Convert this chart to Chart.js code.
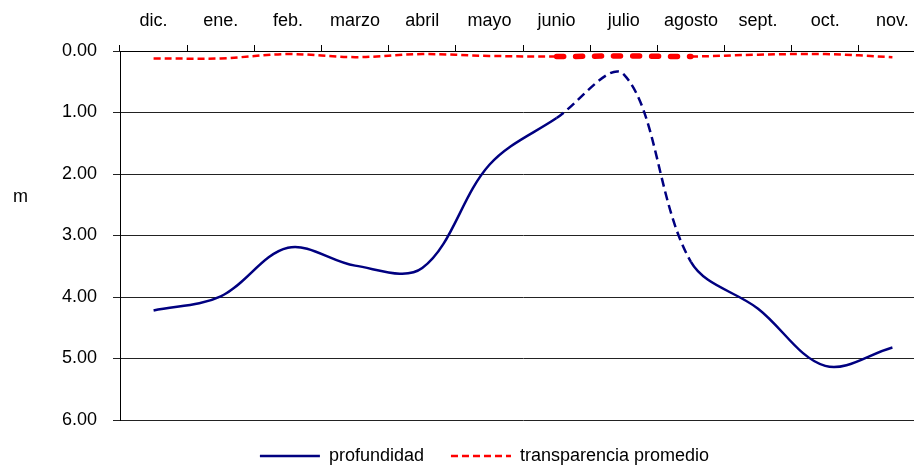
<!DOCTYPE html>
<html>
<head>
  <title>Profundidad y transparencia</title>
  <style>
    html, body { margin: 0; padding: 0; background: #fff; overflow: hidden; }
    .chart-box { position: relative; width: 969px; height: 475px; }
  </style>
  <script src="https://cdn.jsdelivr.net/npm/chart.js"></script>
</head>
<body>
  <div class="chart-box"><canvas id="depthChart"></canvas></div>
  <script>
    const months = ['dic.', 'ene.', 'feb.', 'marzo', 'abril', 'mayo', 'junio', 'julio', 'agosto', 'sept.', 'oct.', 'nov.'];
    const profundidad = [4.22, 3.99, 3.20, 3.49, 3.53, 1.85, 1.09, 0.38, 3.43, 4.19, 5.12, 4.82];
    const transparencia = [0.12, 0.12, 0.05, 0.10, 0.05, 0.08, 0.09, 0.08, 0.09, 0.06, 0.05, 0.10];
    const yMin = 0, yMax = 6, yStep = 1;
    // junio -> agosto is drawn differently (dashed / thick)
    const specialFrom = 6, specialTo = 8;

    const font = { family: '"Liberation Sans", Arial, sans-serif', size: 18 };
    const inSpecial = ctx => ctx.p0DataIndex >= specialFrom && ctx.p1DataIndex <= specialTo;

    const axisTitle = {
      id: 'axisTitle',
      afterDraw(chart) {
        const ctx = chart.ctx;
        ctx.save();
        ctx.font = '18px "Liberation Sans", Arial, sans-serif';
        ctx.fillStyle = '#000';
        ctx.textAlign = 'center';
        ctx.textBaseline = 'alphabetic';
        ctx.fillText('m', 20.5, 202);
        ctx.restore();
      }
    };

    // empty scales used only to reserve room
    const spacer = (position, size) => ({
      type: position === 'bottom' ? 'category' : 'linear',
      position,
      grid: { display: false },
      border: { display: false },
      ticks: { display: false },
      afterFit(s) { if (s.isHorizontal()) s.height = size; else s.width = size; },
    });

    new Chart(document.getElementById('depthChart'), {
      type: 'line',
      data: {
        labels: months,
        datasets: [{
          label: 'profundidad',
          data: profundidad,
          xAxisID: 'x',
          yAxisID: 'y',
          borderColor: '#000080',
          backgroundColor: '#000080',
          borderWidth: 2.5,
          pointRadius: 0,
          pointStyle: 'line',
          tension: 0.35,
          segment: { borderDash: ctx => inSpecial(ctx) ? [9, 5] : undefined },
        }, {
          label: 'transparencia promedio',
          data: transparencia,
          xAxisID: 'x',
          yAxisID: 'y',
          borderColor: '#ff0000',
          backgroundColor: '#ff0000',
          borderWidth: 2.5,
          borderDash: [7, 4],
          pointRadius: 0,
          pointStyle: 'line',
          tension: 0.35,
          segment: {
            borderWidth: ctx => inSpecial(ctx) ? 5.5 : undefined,
            borderDash: ctx => inSpecial(ctx) ? [7, 12] : undefined,
            borderCapStyle: ctx => inSpecial(ctx) ? 'round' : undefined,
          },
        }],
      },
      options: {
        responsive: true,
        maintainAspectRatio: false,
        animation: false,
        layout: { padding: 0 },
        scales: {
          x: {
            position: 'top',
            offset: true,
            grid: { drawOnChartArea: false, tickLength: 6, color: '#000', offset: true },
            border: { color: '#000' },
            ticks: { font, color: '#000', padding: 13, maxRotation: 0, autoSkip: false },
            afterFit(s) { s.height = 51; },
          },
          y: {
            reverse: true,
            min: yMin,
            max: yMax,
            ticks: { stepSize: yStep, font, color: '#000', padding: 16, callback: v => v.toFixed(2) },
            grid: { color: '#222', tickLength: 7 },
            border: { color: '#000' },
            afterFit(s) { s.width = 120; },
          },
          spaceBottom: spacer('bottom', 0),
          spaceRight: spacer('right', 43),
        },
        plugins: {
          legend: {
            position: 'bottom',
            labels: {
              font,
              color: '#000',
              usePointStyle: true,
              pointStyleWidth: 60,
              padding: 27,
              generateLabels(chart) {
                return Chart.defaults.plugins.legend.labels.generateLabels(chart).map((item, i) => {
                  const ds = chart.data.datasets[i];
                  return { ...item, lineDash: ds.borderDash || [], lineWidth: 2.5, strokeStyle: ds.borderColor };
                });
              },
            },
          },
          tooltip: { enabled: false },
        },
      },
      plugins: [axisTitle],
    });
  </script>
</body>
</html>
